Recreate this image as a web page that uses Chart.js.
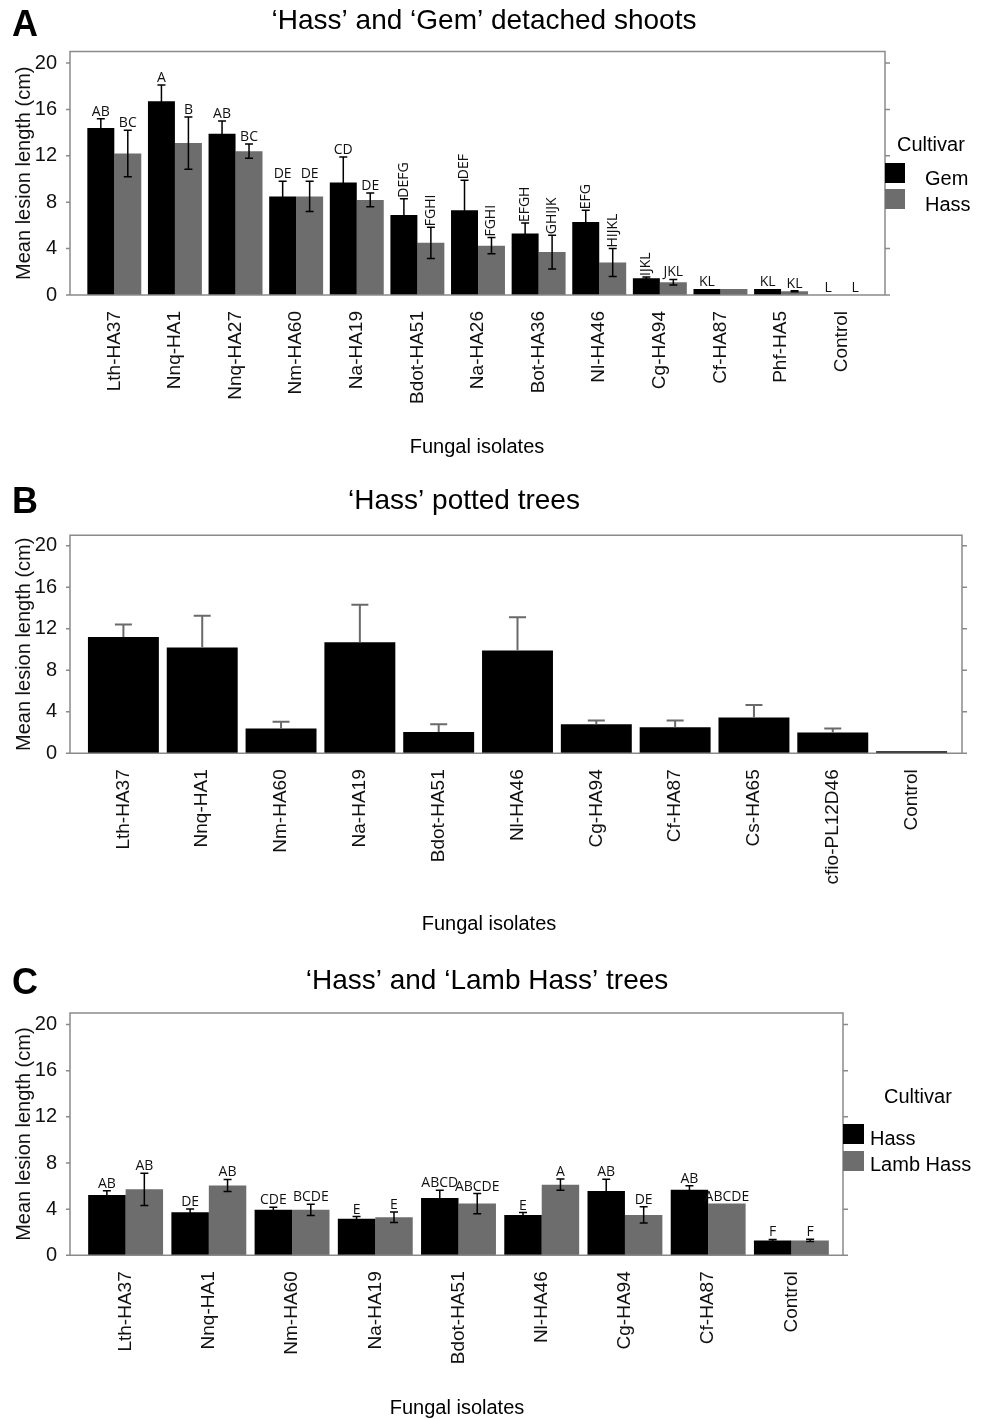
<!DOCTYPE html>
<html>
<head>
<meta charset="utf-8">
<script src="https://cdn.jsdelivr.net/npm/chart.js@4.4.1/dist/chart.umd.min.js"></script>
<style>
  html, body { margin: 0; padding: 0; background: #fff; }
  #wrap { position: relative; width: 986px; height: 1419px; }
  canvas { position: absolute; left: 0; }
</style>
</head>
<body>
<div id="wrap">
  <canvas id="chartA" width="986" height="470" style="top:0px"></canvas>
  <canvas id="chartB" width="986" height="470" style="top:470px"></canvas>
  <canvas id="chartC" width="986" height="479" style="top:940px"></canvas>
</div>
<script>
// ---- panel A: detached shoots ----
const isolatesA = ['Lth-HA37', 'Nnq-HA1', 'Nnq-HA27', 'Nm-HA60', 'Na-HA19', 'Bdot-HA51', 'Na-HA26', 'Bot-HA36', 'Nl-HA46', 'Cg-HA94', 'Cf-HA87', 'Phf-HA5', 'Control'];
const gemA = [14.4, 16.7, 13.9, 8.5, 9.7, 6.9, 7.3, 5.3, 6.3, 1.45, 0.52, 0.52, 0];
const gemErrA = [0.8, 1.4, 1.1, 1.3, 2.2, 1.4, 2.6, 0.9, 1.0, 0.1, 0, 0, 0];
const gemLettersA = ['AB', 'A', 'AB', 'DE', 'CD', 'DEFG', 'DEF', 'EFGH', 'EFG', 'IJKL', 'KL', 'KL', 'L'];
const hassA = [12.2, 13.1, 12.4, 8.5, 8.2, 4.5, 4.25, 3.7, 2.8, 1.1, 0.52, 0.32, 0];
const hassErrA = [2.0, 2.25, 0.62, 1.3, 0.6, 1.35, 0.7, 1.45, 1.2, 0.24, 0, 0.05, 0];
const hassLettersA = ['BC', 'B', 'BC', 'DE', 'DE', 'FGHI', 'FGHI', 'GHIJK', 'HIJKL', 'JKL', '', 'KL', 'L'];
const gemUprightA = [5, 6, 7, 8, 9];   // letters written vertically
const hassUprightA = [5, 6, 7, 8];

// ---- panel B: potted trees ----
const isolatesB = ['Lth-HA37', 'Nnq-HA1', 'Nm-HA60', 'Na-HA19', 'Bdot-HA51', 'Nl-HA46', 'Cg-HA94', 'Cf-HA87', 'Cs-HA65', 'cfio-PL12D46', 'Control'];
const hassB = [11.2, 10.2, 2.4, 10.7, 2.05, 9.9, 2.8, 2.5, 3.45, 2.0, 0.19];
const hassErrB = [1.2, 3.05, 0.65, 3.6, 0.75, 3.2, 0.35, 0.65, 1.2, 0.4, 0];

// ---- panel C: Hass and Lamb Hass trees ----
const isolatesC = ['Lth-HA37', 'Nnq-HA1', 'Nm-HA60', 'Na-HA19', 'Bdot-HA51', 'Nl-HA46', 'Cg-HA94', 'Cf-HA87', 'Control'];
const hassC = [5.23, 3.74, 3.94, 3.16, 4.97, 3.5, 5.57, 5.69, 1.29];
const hassErrC = [0.37, 0.28, 0.23, 0.2, 0.66, 0.2, 1.03, 0.34, 0.09];
const hassLettersC = ['AB', 'DE', 'CDE', 'E', 'ABCD', 'E', 'AB', 'AB', 'F'];
const lambC = [5.72, 6.06, 3.94, 3.3, 4.48, 6.12, 3.5, 4.48, 1.29];
const lambErrC = [1.4, 0.52, 0.48, 0.46, 0.87, 0.49, 0.7, 0, 0.1];
const lambLettersC = ['AB', 'AB', 'BCDE', 'E', 'ABCDE', 'A', 'DE', 'ABCDE', 'F'];

const yTicks = [0, 4, 8, 12, 16, 20];

const SANS = "'Liberation Sans', Arial, sans-serif";
const BLACK = '#000000';
const GREY = '#6d6d6d';

function panelPlugin(p) {
  return {
    id: 'panel' + p.letter,
    afterDraw(chart) {
      const { ctx, chartArea: ca } = chart;
      const ys = chart.scales.y;
      const y0 = ys.getPixelForValue(0);
      const fl = ca.left - p.padL, fr = ca.right + p.padR;
      const T = p.top;
      ctx.save();

      // frame with outward ticks
      ctx.strokeStyle = '#8a8a8a';
      ctx.lineWidth = 1.5;
      ctx.beginPath();
      ctx.moveTo(fl, y0); ctx.lineTo(fl, ca.top); ctx.lineTo(fr, ca.top); ctx.lineTo(fr, y0);
      ctx.moveTo(fl, y0); ctx.lineTo(fr + 5, y0);
      yTicks.forEach(v => {
        const py = ys.getPixelForValue(v);
        ctx.moveTo(fl - 4, py); ctx.lineTo(fl, py);
        ctx.moveTo(fr, py); ctx.lineTo(fr + 5, py);
      });
      ctx.stroke();

      // error bars + significance letters
      chart.data.datasets.forEach((ds, i) => {
        const meta = chart.getDatasetMeta(i);
        meta.data.forEach((bar, j) => {
          const v = ds.data[j], e = ds.err[j];
          let top = bar.y;
          if (e > 0) {
            top = ys.getPixelForValue(v + e);
            const bot = p.upOnly ? bar.y : ys.getPixelForValue(v - e);
            ctx.strokeStyle = p.errColor;
            ctx.lineWidth = p.errWidth;
            ctx.beginPath();
            ctx.moveTo(bar.x, bot); ctx.lineTo(bar.x, top);
            ctx.moveTo(bar.x - p.capW / 2, top); ctx.lineTo(bar.x + p.capW / 2, top);
            if (!p.upOnly) { ctx.moveTo(bar.x - p.capW / 2, bot); ctx.lineTo(bar.x + p.capW / 2, bot); }
            ctx.stroke();
          }
          const txt = ds.letters ? ds.letters[j] : '';
          if (!txt) return;
          ctx.fillStyle = '#111';
          ctx.font = "14px 'Open Sans', sans-serif";
          if (ds.upright && ds.upright.includes(j)) {
            ctx.save();
            ctx.translate(bar.x, top - 1);
            ctx.rotate(-Math.PI / 2);
            ctx.textAlign = 'left';
            ctx.textBaseline = 'middle';
            ctx.fillText(txt, 0, 0);
            ctx.restore();
          } else {
            ctx.textAlign = 'center';
            ctx.textBaseline = 'alphabetic';
            ctx.fillText(txt, bar.x, top - 3);
          }
        });
      });

      // panel letter, title, x title
      ctx.fillStyle = '#000';
      ctx.textAlign = 'left';
      ctx.textBaseline = 'alphabetic';
      ctx.font = 'bold 36px ' + SANS;
      ctx.fillText(p.letter, 12, p.letterY - T);
      ctx.textAlign = 'center';
      ctx.textBaseline = 'middle';
      ctx.font = '28px ' + SANS;
      ctx.fillText(p.title, p.titleX, p.titleY - T);
      ctx.font = '20px ' + SANS;
      ctx.fillText('Fungal isolates', p.xTitleX, p.xTitleY - T);

      // legend
      if (p.legend) {
        const L = p.legend;
        ctx.textAlign = 'left';
        ctx.textBaseline = 'alphabetic';
        ctx.fillText('Cultivar', L.headX, L.headY - T);
        chart.data.datasets.forEach((ds, i) => {
          ctx.fillStyle = ds.backgroundColor;
          ctx.fillRect(L.boxX, L.boxY[i] - T, L.boxW, L.boxH);
          ctx.fillStyle = '#000';
          ctx.fillText(ds.label, L.textX, L.textY[i] - T);
        });
      }
      ctx.restore();
    }
  };
}

function makeChart(id, labels, datasets, p) {
  return new Chart(document.getElementById(id), {
    type: 'bar',
    data: { labels, datasets },
    options: {
      responsive: false,
      animation: false,
      devicePixelRatio: 1,
      layout: { padding: { top: p.areaTop, right: p.padRight, left: 0, bottom: 0 } },
      datasets: { bar: { categoryPercentage: p.catPct, barPercentage: p.barPct, borderWidth: 0 } },
      plugins: { legend: { display: false }, tooltip: { enabled: false } },
      scales: {
        x: {
          grid: { display: false },
          border: { display: false },
          ticks: {
            autoSkip: false, minRotation: 90, maxRotation: 90,
            padding: p.xPad, color: '#111', font: { family: SANS, size: 19 }
          },
          afterFit(s) { s.height = p.xHeight; }
        },
        y: {
          min: 0, max: 21,
          grid: { display: false },
          border: { display: false },
          ticks: {
            stepSize: 4, includeBounds: false, padding: 19,
            color: '#111', font: { family: SANS, size: 20 }
          },
          title: {
            display: true, text: 'Mean lesion length (cm)', color: '#111',
            font: { family: SANS, size: 20 }, padding: { top: 12, bottom: 0 }
          },
          afterFit(s) { s.width = 84; }
        }
      }
    },
    plugins: [panelPlugin(p)]
  });
}

makeChart('chartA', isolatesA, [
  { label: 'Gem', data: gemA, err: gemErrA, letters: gemLettersA, upright: gemUprightA, backgroundColor: BLACK },
  { label: 'Hass', data: hassA, err: hassErrA, letters: hassLettersA, upright: hassUprightA, backgroundColor: GREY }
], {
  letter: 'A', top: 0, letterY: 36, title: '\u2018Hass\u2019 and \u2018Gem\u2019 detached shoots', titleX: 484, titleY: 21,
  xTitleX: 477, xTitleY: 447,
  areaTop: 51.4, padRight: 114, xHeight: 175, xPad: 8, padL: 14, padR: 13,
  catPct: 0.89, barPct: 1.0, errColor: '#000', errWidth: 1.5, capW: 8, upOnly: false,
  legend: { headX: 897, headY: 151, boxX: 885, boxW: 20, boxH: 20, boxY: [163, 189], textX: 925, textY: [185, 211] }
});

makeChart('chartB', isolatesB, [
  { label: 'Hass', data: hassB, err: hassErrB, backgroundColor: BLACK }
], {
  letter: 'B', top: 470, letterY: 513, title: '\u2018Hass\u2019 potted trees', titleX: 464, titleY: 501,
  xTitleX: 489, xTitleY: 924,
  areaTop: 65.3, padRight: 35, xHeight: 186.7, xPad: 8, padL: 14, padR: 11,
  catPct: 1.0, barPct: 0.9, errColor: '#6a6a6a', errWidth: 2, capW: 17, upOnly: true,
  legend: null
});

makeChart('chartC', isolatesC, [
  { label: 'Hass', data: hassC, err: hassErrC, letters: hassLettersC, backgroundColor: BLACK },
  { label: 'Lamb Hass', data: lambC, err: lambErrC, letters: lambLettersC, backgroundColor: GREY }
], {
  letter: 'C', top: 940, letterY: 994, title: '\u2018Hass\u2019 and \u2018Lamb Hass\u2019 trees', titleX: 487, titleY: 981,
  xTitleX: 457, xTitleY: 1408,
  areaTop: 73, padRight: 153, xHeight: 163.7, xPad: 8, padL: 14, padR: 10,
  catPct: 0.9, barPct: 1.0, errColor: '#000', errWidth: 1.5, capW: 8, upOnly: false,
  legend: { headX: 884, headY: 1103, boxX: 843, boxW: 21, boxH: 20, boxY: [1124, 1151], textX: 870, textY: [1145, 1171] }
});
</script>
</body>
</html>
